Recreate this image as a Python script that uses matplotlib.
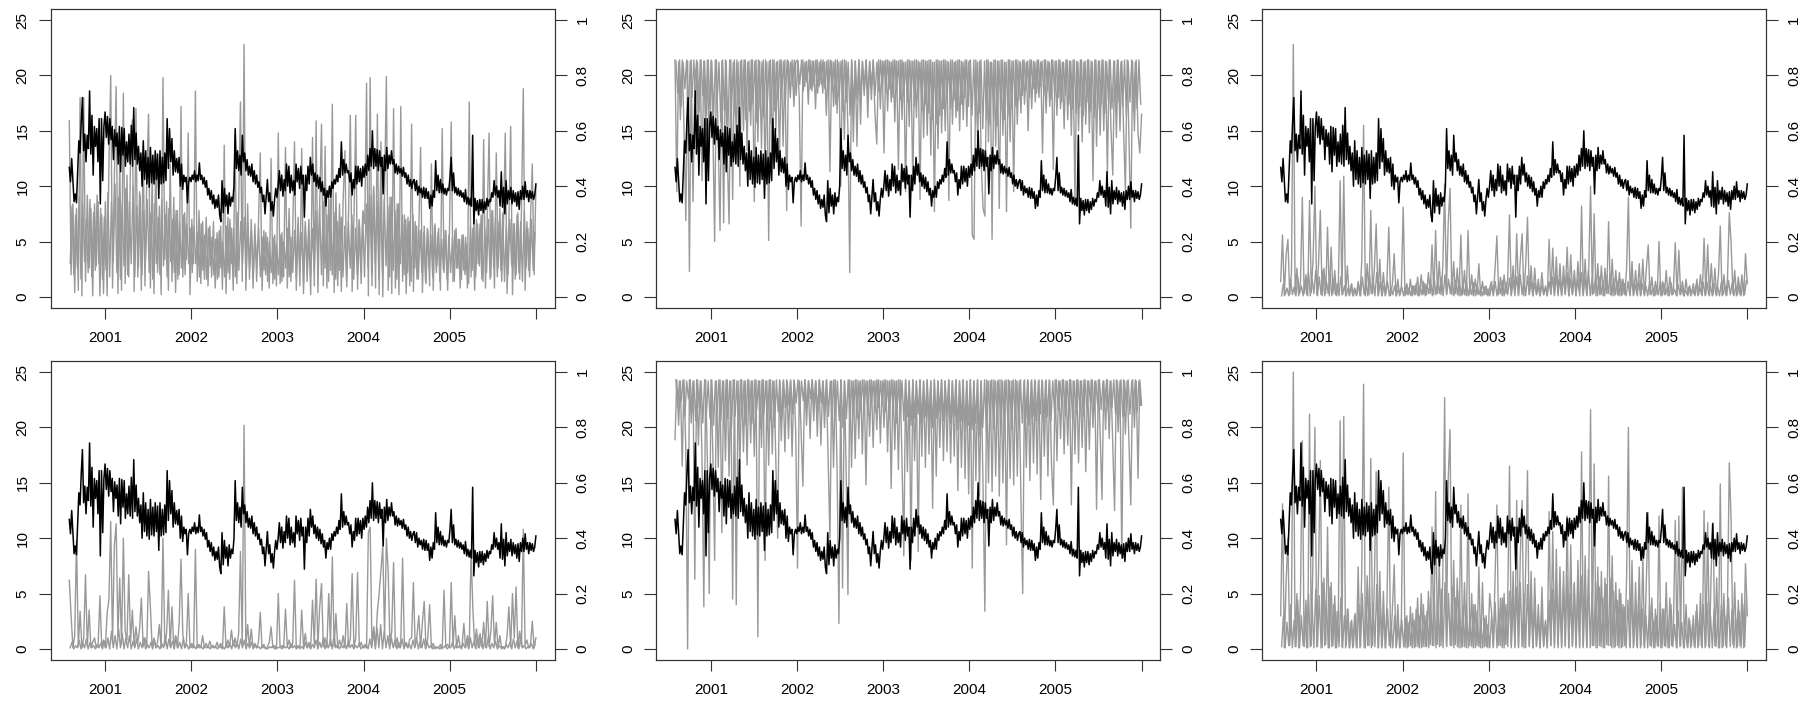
import numpy as np
import matplotlib
matplotlib.use('Agg')
import matplotlib.pyplot as plt

plt.rcParams['font.family'] = ['Liberation Sans', 'DejaVu Sans']

first_year = 2000.585
last_year = 2006.0
tick_years = [2001, 2002, 2003, 2004, 2005, 2006]
tick_labels = ['2001', '2002', '2003', '2004', '2005', '']
left_ticks = [0, 5, 10, 15, 20, 25]
right_ticks = [0, 0.2, 0.4, 0.6, 0.8, 1]
right_labels = ['0', '0.2', '0.4', '0.6', '0.8', '1']

# black series, same in every panel (6 readings a month)
price = [
    11.7, 10.4, 12.5, 10.6, 8.6, 9.3, 8.5, 11.2, 14.1, 13.0, 15.8, 18.0,
    13.2, 14.7, 12.2, 14.6, 13.4, 18.6, 12.9, 16.4, 11.0, 15.4, 13.6, 15.2,
    12.2, 16.1, 8.4, 16.1, 10.5, 15.4,
    16.7, 14.4, 16.3, 13.8, 16.1, 14.2, 15.4, 12.4, 15.1, 13.6, 14.8, 12.0,
    15.4, 11.3, 15.3, 12.8, 15.2, 11.8, 14.0, 12.2, 14.7, 12.0, 15.5, 11.8,
    17.1, 12.4, 14.8, 12.0, 13.6, 11.4, 13.0, 10.0, 14.1, 10.6, 13.2, 10.2,
    12.6, 9.9, 13.5, 10.3, 12.8, 10.2, 13.2, 10.6, 12.9, 8.9, 13.2, 10.2,
    12.6, 10.3, 13.0, 10.5, 16.1, 11.6, 15.2, 12.2, 14.3, 11.0, 13.2, 11.3,
    12.5, 11.2, 12.6, 10.0, 12.0, 9.7, 11.0, 10.4, 10.8, 8.5, 10.4, 10.8,
    10.4, 11.0,
    10.6, 11.4, 10.4, 11.0, 10.5, 12.1, 10.6, 11.0, 10.2, 10.8, 9.9, 10.5,
    9.2, 9.8, 8.8, 9.6, 8.4, 9.2, 8.0, 8.8, 8.1, 9.2, 7.4, 6.8,
    10.5, 7.6, 9.8, 8.2, 9.2, 7.5, 9.4, 8.2, 9.0, 8.6, 10.0, 15.2,
    11.6, 13.2, 11.4, 12.8, 11.0, 14.6, 12.2, 13.0, 11.4, 12.4, 11.0, 11.8,
    10.9, 12.0, 10.4, 11.4, 10.2, 11.0, 9.9, 10.4, 9.4, 9.9, 8.6, 9.2,
    7.5, 9.0, 10.6, 8.6, 9.4, 7.8, 8.6, 7.3, 8.8, 9.8, 9.0, 10.0,
    11.4, 9.6, 11.0, 9.1, 10.6, 9.6, 12.0, 10.0, 11.8, 9.4, 11.0, 9.6,
    10.5, 9.2, 12.0, 10.4, 11.6, 9.8, 11.8, 10.2, 11.0, 7.2, 11.0, 9.6,
    11.8, 10.2, 12.6, 11.0, 12.0, 10.4, 11.2, 10.0, 11.0, 9.8, 10.8, 9.5,
    10.4, 9.2, 9.8, 8.2, 9.6, 9.0, 10.0, 9.0, 10.4, 9.8, 10.6, 10.2,
    11.0, 10.4, 11.6, 10.8, 14.0, 11.0, 12.4, 11.2, 12.0, 11.2, 11.4, 10.4,
    11.2, 9.2, 10.6, 9.8, 11.8, 10.2, 11.8, 10.4, 11.6, 10.0, 11.8, 10.8,
    12.0, 11.0, 12.8, 11.4, 13.4, 11.8, 15.0, 11.6, 13.4, 11.8, 13.3, 11.4,
    13.2, 11.8, 12.6, 9.3, 12.8, 11.4, 13.5, 11.6, 12.8, 12.0, 13.2, 12.0,
    12.4, 11.2, 12.0, 11.1, 11.8, 11.2, 11.6, 10.9, 11.7, 10.8, 11.2, 10.2,
    11.0, 10.0, 10.6, 9.8, 10.4, 10.6, 9.6, 10.5, 9.2, 10.0, 9.4, 9.8,
    9.0, 9.9, 8.9, 9.8, 8.9, 9.5, 8.0, 9.2, 8.2, 9.6, 9.0, 12.3,
    9.6, 11.0, 9.4, 10.6, 9.4, 10.2, 9.3, 9.8, 9.2, 9.8, 9.6, 10.8,
    12.6, 9.6, 11.2, 9.4, 9.9, 9.2, 9.8, 9.1, 9.6, 9.0, 9.4, 8.6,
    9.7, 8.4, 9.0, 8.3, 8.9, 8.2, 14.6, 6.6, 8.9, 7.8, 8.7, 7.4,
    8.8, 7.8, 8.8, 7.6, 8.6, 7.9, 8.9, 8.2, 8.8, 8.6, 9.4, 9.0,
    10.5, 9.2, 10.0, 9.0, 9.6, 8.2, 11.3, 8.1, 9.9, 7.5, 10.5, 8.4,
    9.6, 8.8, 9.9, 8.4, 9.6, 8.6, 9.4, 8.2, 9.5, 7.9, 9.6, 8.8,
    10.0, 8.8, 10.4, 9.0, 9.6, 8.6, 9.6, 8.9, 9.5, 8.8, 9.2, 10.2,
]

# grey series, read in left axis units (4 readings a month): the spikes
grey_top_left = [
    15.9, 2.0, 8.4, 0.4, 8.0, 0.6, 18.0, 0.1, 18.0, 1.4, 9.2, 2.6, 8.0, 0.1, 8.4, 2.8, 8.6, 0.1, 7.4, 0.3,
    8.6, 0.1, 12.0, 20.0, 0.8, 10.6, 19.0, 0.3, 12.4, 0.6, 18.4, 1.2,
    11.0, 1.8, 12.5, 16.0, 0.5, 17.0, 1.8, 9.5, 0.6, 13.6, 1.0, 10.8,
    16.5, 0.8, 11.0, 0.3, 13.0, 2.2, 8.2, 0.2, 19.8, 3.4, 8.6, 0.6,
    12.0, 1.4, 9.0, 0.4, 7.8, 2.0, 17.2, 1.8, 7.6, 3.4, 14.8, 0.2,
    7.0, 3.0, 18.6, 1.4, 7.8, 1.2, 6.8, 1.6, 7.2, 1.0, 6.4, 1.8,
    6.8, 0.8, 5.8, 1.8, 6.4, 0.7, 13.7, 0.3, 7.2, 1.6, 6.2, 0.6,
    14.6, 1.2, 8.0, 17.6, 1.4, 22.8, 0.6, 8.4, 1.6, 7.0, 0.8, 6.6,
    1.4, 6.6, 13.0, 0.6, 6.0, 2.0, 5.4, 0.8, 12.5, 1.2, 5.6, 1.0,
    14.8, 1.2, 5.8, 1.8, 13.5, 0.8, 8.0, 1.4, 6.0, 14.0, 0.6, 7.2,
    1.0, 13.4, 0.3, 6.8, 1.4, 5.6, 0.2, 14.4, 1.0, 15.9, 0.4, 8.6,
    15.6, 1.0, 13.6, 0.8, 9.0, 2.4, 17.4, 0.4, 9.4, 1.0, 8.4, 0.5,
    8.8, 13.2, 0.9, 7.6, 16.4, 0.5, 7.0, 16.4, 0.7, 6.8, 1.2, 7.8,
    6.6, 19.3, 0.1, 19.8, 1.0, 10.0, 0.8, 16.5, 0.2, 14.0, 0.0, 9.6,
    19.9, 0.6, 9.0, 0.3, 17.0, 0.8, 8.4, 0.2, 17.2, 1.4, 7.4, 0.3,
    7.2, 1.0, 15.6, 0.5, 6.8, 1.6, 6.2, 13.5, 0.4, 6.4, 1.2, 6.0,
    1.0, 12.0, 0.6, 6.6, 2.8, 6.2, 0.6, 15.2, 2.2, 6.0, 0.6, 5.8,
    15.8, 1.4, 6.0, 2.6, 5.2, 0.8, 5.6, 2.4, 5.4, 0.8, 17.6, 1.8,
    6.2, 0.6, 7.0, 3.0, 6.6, 1.6, 14.2, 0.8, 7.2, 14.8, 1.8, 7.8,
    0.8, 13.0, 2.6, 8.0, 1.4, 6.4, 14.8, 0.3, 6.8, 15.4, 0.2, 6.6,
    2.0, 7.6, 1.6, 8.0, 18.8, 0.6, 6.8, 2.4, 7.0, 12.0, 2.0, 10.0,
]

grey_top_mid = [
    21.4, 9.5, 21.2, 16.0, 21.4, 15.2, 6.9, 21.3, 2.3, 21.4, 8.6, 19.2, 21.4, 15.0, 21.4, 10.5, 21.3, 14.6, 21.4, 13.2,
    21.4, 15.5, 5.0, 21.4, 14.0, 6.0, 21.3, 6.7, 21.4, 13.0, 6.6, 21.4,
    8.8, 21.4, 14.2, 21.2, 10.0, 21.4, 15.0, 21.4, 13.2, 21.3, 15.5, 21.4,
    8.6, 21.4, 14.0, 21.3, 13.4, 21.4, 10.8, 21.2, 5.1, 21.4, 12.8, 21.4,
    15.0, 21.3, 12.6, 21.4, 13.6, 21.4, 7.8, 21.3, 18.0, 21.4, 17.2, 21.2,
    21.4, 17.8, 6.4, 21.4, 19.0, 21.3, 17.4, 21.4, 18.6, 21.3, 17.0, 21.4,
    19.0, 21.4, 18.4, 21.2, 16.4, 21.4, 11.3, 21.3, 17.2, 21.4, 16.6, 21.2,
    10.0, 21.4, 14.2, 21.3, 15.0, 2.2, 21.4, 14.0, 21.3, 13.6, 21.4, 15.6,
    21.3, 18.2, 21.4, 16.2, 21.2, 17.8, 21.4, 16.6, 13.8, 21.4, 17.0, 21.3,
    13.0, 21.4, 16.8, 21.3, 17.6, 21.4, 15.8, 21.3, 11.5, 21.4, 16.0, 21.2,
    9.5, 21.4, 15.4, 21.3, 10.0, 21.4, 16.2, 21.3, 8.8, 21.4, 14.4, 21.3,
    14.6, 21.4, 12.8, 21.2, 7.7, 21.4, 13.4, 21.3, 14.8, 21.4, 15.0, 21.3,
    8.7, 21.4, 15.6, 21.2, 16.2, 21.4, 15.0, 21.3, 16.0, 21.4, 15.4, 21.2,
    21.4, 5.6, 5.2, 21.4, 13.8, 21.3, 12.0, 8.0, 7.3, 21.4, 14.0, 21.2,
    5.2, 21.4, 13.6, 21.3, 8.0, 21.4, 14.6, 21.2, 7.7, 21.4, 14.0, 21.3,
    9.5, 21.4, 15.6, 21.3, 16.6, 21.4, 17.4, 21.2, 15.0, 21.4, 17.0, 21.3,
    17.6, 21.4, 18.0, 21.2, 13.0, 21.4, 16.6, 21.3, 17.2, 21.4, 11.5, 21.3,
    16.4, 21.4, 17.0, 21.2, 15.2, 21.4, 16.0, 21.3, 14.6, 21.4, 8.7, 21.3,
    15.0, 21.4, 14.0, 21.2, 15.6, 21.4, 14.8, 21.3, 10.5, 21.4, 13.6, 21.3,
    14.6, 21.4, 15.0, 21.3, 11.0, 21.4, 15.2, 11.0, 21.3, 14.4, 21.4, 15.0,
    21.3, 15.0, 9.6, 21.4, 14.2, 6.2, 21.3, 15.0, 21.4, 14.8, 13.0, 16.5,
]

grey_top_right = [
    1.4, 5.6, 0.1, 3.8, 5.2, 0.2, 2.2, 22.8, 0.2, 2.6, 0.1, 1.4, 9.0, 0.3, 2.0, 0.1, 8.7, 0.4, 3.6, 10.0,
    0.2, 3.0, 7.8, 0.1, 2.6, 0.3, 6.3, 0.1, 4.5, 0.3, 2.4, 0.1,
    1.0, 10.5, 0.2, 10.9, 0.1, 2.8, 0.1, 1.0, 0.1, 0.8, 0.1, 1.4,
    0.1, 3.2, 15.5, 0.1, 3.0, 0.2, 7.8, 0.3, 2.6, 6.6, 0.1, 3.4,
    0.1, 2.2, 0.1, 1.6, 6.3, 0.1, 1.2, 3.9, 0.1, 1.6, 0.1, 1.0,
    8.1, 0.1, 1.2, 0.2, 1.6, 0.1, 1.0, 0.2, 1.8, 0.1, 2.0, 0.2,
    1.2, 0.2, 2.2, 0.3, 4.7, 0.2, 6.0, 0.3, 3.2, 0.2, 2.8, 10.2,
    0.3, 6.8, 9.8, 0.2, 3.2, 0.3, 2.6, 0.1, 5.6, 0.2, 2.4, 0.1,
    6.0, 0.2, 2.0, 0.1, 1.6, 0.2, 3.0, 0.1, 1.4, 0.2, 1.0, 0.1,
    0.8, 1.4, 0.1, 2.6, 5.5, 0.2, 1.8, 0.1, 2.0, 0.3, 1.6, 7.4,
    0.2, 2.8, 0.1, 5.7, 0.2, 3.4, 5.7, 0.1, 3.0, 7.2, 0.2, 2.8,
    0.1, 2.6, 0.2, 1.6, 0.1, 2.2, 0.2, 1.0, 0.1, 5.2, 0.2, 4.4,
    0.3, 3.6, 0.1, 3.0, 0.2, 2.8, 0.3, 4.5, 0.1, 3.8, 0.2, 2.4,
    0.2, 3.2, 0.1, 8.2, 0.2, 3.4, 0.1, 2.6, 10.0, 0.2, 7.5, 0.1,
    3.0, 0.2, 2.8, 0.1, 2.6, 0.3, 6.8, 0.2, 3.4, 0.1, 2.4, 0.2,
    2.2, 0.1, 1.6, 0.2, 2.6, 9.0, 0.1, 3.2, 0.2, 2.4, 0.1, 3.0,
    0.2, 3.4, 0.1, 2.6, 4.7, 0.2, 1.8, 0.1, 1.4, 0.2, 5.0, 0.1,
    1.4, 0.2, 2.4, 0.1, 1.8, 0.2, 0.8, 4.9, 0.1, 4.2, 0.2, 1.4,
    0.1, 1.6, 0.1, 1.0, 0.2, 1.2, 0.1, 1.6, 0.2, 2.0, 0.1, 5.3,
    0.2, 4.7, 0.1, 3.0, 0.2, 2.6, 0.1, 2.0, 6.4, 0.1, 2.0, 0.2,
    1.6, 7.6, 4.9, 0.3, 2.4, 0.1, 1.8, 0.2, 2.0, 0.1, 3.9, 1.2,
]

grey_bottom_left = [
    6.2, 3.0, 0.1, 1.2, 9.8, 0.2, 3.4, 0.1, 1.0, 6.7, 0.2, 3.5, 0.1, 0.6, 1.0, 0.1, 0.3, 4.8, 0.2, 0.8,
    0.1, 3.2, 4.5, 11.5, 0.5, 9.3, 11.3, 1.2, 6.4, 0.4, 10.0, 1.6,
    0.8, 6.7, 0.6, 3.5, 0.3, 2.0, 0.5, 1.8, 4.6, 0.2, 1.0, 0.1,
    7.0, 3.8, 0.1, 1.0, 0.1, 0.6, 2.2, 0.1, 10.0, 0.3, 1.4, 5.3,
    0.2, 3.8, 0.1, 1.2, 0.1, 2.4, 8.1, 1.4, 0.1, 0.6, 5.0, 0.1,
    0.5, 0.1, 9.0, 0.1, 0.4, 0.1, 1.2, 0.1, 0.5, 0.1, 0.7, 0.1,
    0.3, 0.1, 0.6, 0.1, 0.5, 0.0, 3.8, 0.1, 0.8, 0.2, 1.7, 0.3,
    1.0, 0.2, 1.4, 8.8, 0.3, 20.2, 0.2, 2.2, 0.1, 1.8, 0.1, 0.5,
    0.1, 0.6, 3.3, 0.1, 0.4, 0.0, 0.2, 0.6, 2.0, 0.1, 0.3, 0.0,
    5.0, 0.1, 0.3, 0.1, 3.6, 0.2, 0.8, 0.1, 0.5, 6.2, 0.1, 0.3,
    0.0, 3.5, 0.2, 1.4, 0.1, 0.6, 0.1, 4.4, 0.3, 6.3, 0.2, 3.8,
    5.9, 0.2, 1.0, 0.1, 5.0, 0.3, 8.3, 0.2, 3.2, 0.1, 0.8, 0.2,
    1.2, 0.1, 4.1, 0.2, 0.9, 6.8, 0.1, 1.0, 6.9, 0.2, 0.6, 0.1,
    0.4, 0.1, 10.5, 11.0, 0.3, 2.0, 0.2, 3.4, 5.0, 7.2, 9.3, 1.2,
    10.0, 7.0, 0.4, 1.6, 7.8, 0.2, 1.0, 0.1, 0.7, 8.2, 0.2, 0.6,
    0.1, 0.9, 1.0, 6.0, 0.2, 1.2, 3.0, 0.1, 2.4, 4.3, 0.1, 1.0,
    4.0, 0.1, 0.5, 0.0, 0.2, 0.1, 0.4, 0.0, 5.3, 0.2, 0.4, 0.1,
    6.0, 0.2, 3.0, 0.1, 1.2, 0.1, 0.3, 2.3, 0.1, 1.2, 0.2, 8.8,
    3.7, 0.3, 1.8, 0.1, 1.4, 0.2, 2.4, 0.1, 4.3, 0.2, 1.6, 4.8,
    0.3, 2.4, 0.1, 1.2, 0.0, 0.2, 0.1, 1.2, 3.8, 0.2, 5.0, 1.0,
    5.6, 0.1, 1.6, 0.2, 10.8, 0.3, 0.8, 0.1, 0.4, 2.5, 0.1, 1.0,
]

grey_bottom_mid = [
    18.9, 24.3, 20.2, 24.2, 16.5, 24.3, 18.0, 0.0, 24.3, 20.4, 24.2, 6.3, 24.3, 18.4, 24.2, 17.2, 3.8, 24.3, 16.8, 5.0,
    24.3, 17.6, 8.0, 24.2, 16.4, 24.3, 10.5, 24.2, 17.0, 24.3, 15.6, 24.2,
    4.5, 24.3, 4.0, 24.2, 16.2, 24.3, 17.8, 24.2, 16.6, 24.3, 18.6, 24.2,
    17.4, 24.3, 1.1, 24.2, 18.2, 24.3, 8.0, 24.2, 16.6, 24.3, 17.6, 24.2,
    16.8, 10.0, 24.3, 18.8, 24.2, 17.8, 24.3, 19.0, 24.2, 17.4, 24.3, 19.6,
    7.3, 24.2, 19.6, 14.7, 24.3, 20.2, 24.2, 19.0, 24.3, 20.6, 24.2, 19.2,
    24.3, 18.4, 24.2, 20.0, 24.3, 17.2, 10.0, 24.2, 16.4, 24.3, 15.8, 2.3,
    24.3, 5.5, 24.2, 16.0, 4.9, 24.3, 16.4, 24.2, 17.2, 24.3, 19.0, 24.2,
    17.6, 24.3, 14.8, 24.2, 19.2, 24.3, 18.2, 24.2, 19.8, 24.3, 18.6, 24.2,
    20.0, 24.3, 17.8, 24.2, 14.5, 24.3, 18.0, 24.2, 16.2, 24.3, 17.0, 8.4,
    24.3, 16.0, 24.2, 8.0, 24.3, 17.0, 24.2, 8.8, 24.3, 17.4, 24.2, 16.4,
    24.3, 17.6, 24.2, 12.7, 24.3, 15.6, 24.2, 18.2, 24.3, 17.0, 24.2, 17.8,
    24.3, 16.8, 24.2, 17.4, 24.3, 14.3, 24.2, 16.4, 24.3, 15.4, 24.2, 14.0,
    24.3, 7.3, 24.2, 15.2, 24.3, 13.8, 24.2, 14.6, 3.4, 24.3, 15.0, 24.2,
    14.2, 24.3, 15.6, 24.2, 13.8, 24.3, 15.0, 24.2, 9.4, 24.3, 15.4, 24.2,
    14.8, 24.3, 15.6, 24.2, 13.6, 5.0, 24.3, 16.4, 24.2, 15.2, 24.3, 16.8,
    24.2, 15.8, 24.3, 13.5, 24.2, 17.4, 24.3, 15.6, 24.2, 16.6, 13.0, 24.3,
    17.0, 24.2, 19.0, 24.3, 17.6, 24.2, 18.4, 24.3, 13.0, 24.2, 17.6, 24.3,
    16.8, 24.2, 18.2, 24.3, 16.0, 24.2, 18.0, 24.3, 20.0, 24.2, 12.6, 24.3,
    19.4, 13.5, 24.2, 19.8, 24.3, 19.0, 24.2, 18.2, 12.5, 24.3, 19.6, 24.2,
    8.2, 24.3, 19.4, 24.2, 18.6, 13.0, 24.3, 20.0, 24.2, 15.4, 24.3, 22.0,
]

grey_bottom_right = [
    3.0, 13.1, 0.1, 6.0, 10.0, 0.3, 4.0, 25.0, 0.2, 5.0, 0.1, 5.0, 18.8, 0.2, 4.4, 0.1, 21.2, 0.3, 9.0, 20.0,
    0.2, 7.0, 17.0, 0.1, 6.4, 0.4, 11.0, 0.1, 6.0, 0.3, 4.8, 0.1,
    3.0, 20.6, 0.2, 21.0, 0.1, 3.6, 0.1, 2.4, 0.1, 3.0, 0.1, 7.4,
    0.1, 7.0, 23.9, 0.1, 6.6, 0.3, 17.2, 0.3, 6.0, 16.0, 0.1, 7.0,
    0.1, 5.2, 0.1, 4.2, 14.6, 0.1, 3.6, 7.6, 0.1, 4.0, 0.1, 2.8,
    17.7, 0.1, 3.0, 0.2, 3.8, 0.1, 2.6, 0.2, 4.6, 0.1, 5.0, 0.2,
    3.0, 0.2, 5.2, 0.4, 11.0, 0.3, 14.2, 0.4, 8.0, 0.3, 6.8, 22.7,
    0.3, 15.4, 19.8, 0.3, 8.0, 0.4, 6.4, 0.1, 13.0, 0.2, 6.0, 0.1,
    14.0, 0.3, 5.0, 0.1, 4.0, 0.3, 7.4, 0.1, 6.0, 0.2, 3.0, 0.1,
    5.0, 3.4, 0.1, 6.4, 13.0, 0.3, 4.6, 0.1, 5.0, 0.4, 4.0, 16.5,
    0.3, 7.0, 0.1, 13.4, 0.3, 8.4, 13.4, 0.1, 7.4, 16.1, 0.3, 7.0,
    0.1, 6.4, 0.3, 4.0, 0.1, 5.6, 0.3, 2.6, 0.1, 12.4, 0.3, 10.6,
    0.4, 9.0, 0.1, 7.4, 0.3, 7.0, 0.4, 12.0, 0.1, 9.4, 0.3, 6.0,
    0.3, 8.0, 0.1, 17.8, 0.3, 8.4, 0.1, 6.4, 21.6, 0.3, 16.7, 0.1,
    7.4, 0.3, 7.0, 0.1, 6.4, 0.4, 15.6, 0.3, 8.4, 0.1, 6.0, 0.3,
    5.4, 0.1, 4.0, 0.3, 6.4, 20.0, 0.1, 8.0, 0.3, 6.0, 0.1, 7.4,
    0.3, 8.4, 0.1, 6.4, 12.3, 0.3, 4.6, 0.1, 3.6, 0.3, 12.0, 0.1,
    3.6, 0.3, 6.0, 0.1, 4.6, 0.3, 2.0, 11.6, 0.1, 12.0, 0.3, 14.6,
    0.1, 4.0, 0.1, 2.6, 0.3, 3.0, 0.1, 4.0, 0.3, 5.0, 0.1, 12.5,
    0.3, 11.4, 0.1, 7.4, 11.4, 0.3, 6.4, 0.1, 14.9, 0.1, 5.0, 0.3,
    4.0, 16.8, 11.7, 0.4, 6.0, 0.1, 4.4, 0.3, 5.0, 0.1, 7.7, 3.0,
]

# dense part of the grey series, readings that fall between the ones above
body_top_left = [
    3.0, 8.2, 2.0, 7.4, 2.6, 9.0, 1.6, 8.4, 3.2, 7.0, 2.2, 8.8, 1.8, 7.6, 2.4, 9.2, 3.0, 8.0, 1.6, 7.2,
    2.4, 9.4, 1.8, 8.6, 3.2, 10.2, 2.2, 9.0, 1.6, 8.4, 2.8, 9.8,
    2.0, 8.6, 3.0, 10.0, 1.8, 8.2, 2.6, 9.2, 2.0, 7.8, 3.4, 8.8,
    2.2, 7.6, 1.6, 8.4, 3.0, 7.2, 2.0, 8.8, 2.8, 7.4, 1.8, 8.0,
    3.2, 7.0, 2.2, 7.8, 1.6, 6.8, 2.6, 7.4, 2.0, 6.6, 3.0, 6.2,
    2.2, 6.4, 3.0, 5.8, 1.8, 6.6, 2.4, 5.6, 1.6, 6.2, 2.8, 5.4,
    2.0, 5.2, 1.6, 6.0, 2.6, 5.0, 1.8, 6.4, 2.2, 7.0, 3.0, 6.2,
    1.8, 7.6, 2.4, 6.8, 3.0, 7.2, 1.6, 6.4, 2.6, 6.0, 2.0, 5.6,
    2.8, 6.2, 1.8, 5.4, 2.4, 5.8, 1.4, 5.0, 2.2, 5.4, 1.6, 4.8,
    2.0, 5.6, 1.4, 5.0, 2.6, 6.2, 1.8, 5.4, 2.2, 6.0, 1.6, 6.6,
    2.4, 5.8, 1.2, 6.4, 2.8, 7.0, 1.8, 6.2, 2.2, 7.8, 3.0, 8.2,
    2.0, 8.6, 2.6, 7.4, 1.4, 8.8, 2.0, 7.6, 1.6, 6.8, 2.4, 7.2,
    1.8, 6.4, 1.4, 6.8, 2.6, 7.4, 1.6, 6.2, 2.0, 7.0, 2.4, 7.6,
    1.8, 8.4, 2.6, 9.2, 2.0, 9.8, 3.0, 8.6, 1.6, 9.4, 2.2, 8.8,
    2.8, 8.2, 1.8, 9.0, 2.4, 7.8, 1.6, 8.4, 3.0, 7.4, 2.0, 7.0,
    2.2, 6.8, 1.4, 7.4, 2.6, 6.4, 1.6, 6.0, 2.2, 5.8, 1.4, 6.2,
    2.6, 5.6, 1.8, 6.4, 2.2, 5.8, 1.4, 5.2, 2.4, 6.0, 1.6, 5.6,
    2.2, 5.4, 1.4, 6.2, 2.6, 5.2, 1.6, 5.6, 2.0, 4.8, 1.2, 6.4,
    2.4, 7.0, 1.8, 6.6, 2.8, 7.4, 1.4, 6.2, 2.2, 7.0, 1.6, 7.8,
    2.6, 7.2, 1.8, 6.8, 2.4, 7.6, 1.4, 6.4, 2.0, 7.0, 2.8, 6.6,
    1.6, 7.4, 2.2, 6.8, 1.4, 7.8, 2.6, 6.2, 1.8, 7.0, 2.4, 5.8,
]

body_top_mid = [
    21.3, 18.4, 21.4, 17.2, 21.2, 18.8, 21.4, 16.6, 21.3, 18.0, 21.4, 17.4, 21.2, 16.8, 21.4, 18.2, 21.3, 16.4, 21.4, 17.0,
    21.3, 16.2, 21.4, 17.6, 21.2, 15.8, 21.4, 16.8, 21.3, 15.4, 21.4, 17.0,
    21.2, 16.4, 21.4, 15.6, 21.3, 17.2, 21.4, 16.0, 21.2, 16.8, 21.4, 17.4,
    21.3, 15.8, 21.4, 17.0, 21.2, 16.2, 21.4, 17.6, 21.3, 15.6, 21.4, 16.8,
    21.2, 17.8, 21.4, 18.4, 21.3, 17.6, 21.4, 18.8, 21.2, 19.0, 21.4, 18.2,
    21.3, 19.2, 21.4, 18.6, 21.2, 19.4, 21.4, 18.8, 21.3, 19.0, 21.4, 18.4,
    21.2, 19.2, 21.4, 18.8, 21.3, 18.0, 21.4, 18.6, 21.2, 17.4, 21.4, 18.0,
    21.3, 16.8, 21.4, 17.6, 21.2, 16.4, 21.4, 17.2, 21.3, 17.8, 21.4, 18.2,
    21.2, 18.8, 21.4, 18.0, 21.3, 19.0, 21.4, 18.2, 21.2, 18.6, 21.4, 18.8,
    21.3, 18.4, 21.4, 18.8, 21.2, 18.0, 21.4, 18.6, 21.3, 17.8, 21.4, 18.2,
    21.2, 17.6, 21.4, 18.0, 21.3, 17.2, 21.4, 17.8, 21.2, 16.8, 21.4, 17.4,
    21.3, 16.6, 21.4, 16.0, 21.2, 15.6, 21.4, 16.4, 21.3, 17.0, 21.4, 17.6,
    21.2, 17.0, 21.4, 17.8, 21.3, 16.8, 21.4, 17.4, 21.2, 18.0, 21.4, 17.2,
    21.3, 16.4, 21.4, 15.8, 21.2, 16.6, 21.4, 15.2, 21.3, 16.0, 21.4, 15.6,
    21.2, 16.2, 21.4, 15.4, 21.3, 16.8, 21.4, 16.0, 21.2, 16.4, 21.4, 17.0,
    21.3, 17.2, 21.4, 17.8, 21.2, 18.2, 21.4, 18.6, 21.3, 18.0, 21.4, 18.8,
    21.2, 18.4, 21.4, 19.0, 21.3, 18.2, 21.4, 18.6, 21.2, 17.8, 21.4, 18.4,
    21.3, 18.0, 21.4, 17.6, 21.2, 18.2, 21.4, 17.4, 21.3, 17.0, 21.4, 16.6,
    21.2, 17.2, 21.4, 16.4, 21.3, 17.6, 21.4, 16.8, 21.2, 16.2, 21.4, 17.0,
    21.3, 17.4, 21.4, 16.6, 21.2, 17.8, 21.4, 17.0, 21.3, 16.8, 21.4, 17.6,
    21.2, 17.2, 21.4, 16.4, 21.3, 17.6, 21.4, 16.8, 21.2, 17.0, 21.4, 17.4,
]

body_top_right = [
    0.1, 1.2, 0.2, 0.8, 0.1, 1.6, 0.2, 0.9, 0.1, 1.8, 0.3, 1.0, 0.1, 1.4, 0.2, 2.2, 0.1, 1.6, 0.3, 2.4,
    0.1, 1.8, 0.2, 2.4, 0.1, 1.4, 0.3, 2.0, 0.1, 1.6, 0.2, 1.2,
    0.1, 1.8, 0.2, 1.0, 0.1, 0.8, 0.2, 1.2, 0.1, 0.7, 0.2, 1.0,
    0.1, 1.8, 0.2, 1.4, 0.1, 2.0, 0.3, 1.6, 0.1, 2.2, 0.2, 1.4,
    0.1, 1.0, 0.2, 1.4, 0.1, 0.8, 0.2, 1.0, 0.1, 0.7, 0.2, 0.9,
    0.1, 0.9, 0.2, 0.8, 0.1, 1.0, 0.2, 1.2, 0.1, 0.9, 0.2, 1.4,
    0.1, 1.1, 0.3, 1.6, 0.1, 1.8, 0.2, 1.4, 0.3, 1.8, 0.1, 2.0,
    0.2, 1.6, 0.3, 1.9, 0.1, 1.5, 0.2, 1.7, 0.1, 1.2, 0.2, 1.4,
    0.1, 1.0, 0.2, 1.3, 0.1, 1.1, 0.2, 0.8, 0.1, 0.9, 0.2, 0.7,
    0.1, 1.0, 0.2, 1.4, 0.1, 1.2, 0.3, 1.5, 0.1, 1.3, 0.2, 1.7,
    0.1, 1.5, 0.3, 1.8, 0.1, 2.0, 0.2, 1.6, 0.1, 1.9, 0.2, 1.4,
    0.1, 1.2, 0.2, 0.9, 0.1, 1.1, 0.2, 0.8, 0.1, 1.4, 0.3, 1.8,
    0.1, 2.0, 0.3, 1.6, 0.1, 1.8, 0.2, 2.2, 0.1, 1.6, 0.2, 1.9,
    0.1, 1.6, 0.3, 2.2, 0.1, 1.8, 0.2, 2.4, 0.1, 1.7, 0.3, 2.0,
    0.1, 1.8, 0.2, 1.5, 0.1, 1.9, 0.3, 2.1, 0.1, 1.7, 0.2, 1.4,
    0.1, 1.6, 0.2, 1.2, 0.1, 1.4, 0.2, 1.8, 0.1, 1.1, 0.2, 1.5,
    0.1, 1.2, 0.2, 1.0, 0.1, 1.3, 0.2, 0.8, 0.1, 1.0, 0.2, 1.4,
    0.1, 1.2, 0.2, 0.9, 0.1, 1.3, 0.2, 0.7, 0.1, 1.1, 0.2, 0.8,
    0.1, 0.6, 0.2, 0.9, 0.1, 0.7, 0.2, 1.1, 0.1, 0.9, 0.2, 1.3,
    0.1, 1.4, 0.2, 1.0, 0.1, 1.2, 0.2, 0.9, 0.1, 1.3, 0.2, 1.0,
    0.1, 1.5, 0.2, 1.2, 0.1, 0.9, 0.2, 1.1, 0.1, 1.3, 0.2, 1.5,
]

body_bottom_left = [
    0.1, 0.6, 0.0, 0.3, 0.1, 0.8, 0.0, 0.5, 0.1, 0.9, 0.0, 0.6, 0.1, 0.3, 0.0, 0.4, 0.1, 0.5, 0.0, 0.7,
    0.1, 1.0, 0.0, 1.6, 0.1, 1.2, 0.0, 1.8, 0.1, 1.4, 0.0, 1.0,
    0.1, 1.2, 0.0, 0.7, 0.1, 0.9, 0.0, 0.6, 0.1, 1.0, 0.0, 0.4,
    0.1, 0.6, 0.0, 0.8, 0.1, 0.3, 0.0, 0.5, 0.1, 1.2, 0.0, 0.9,
    0.1, 0.7, 0.0, 1.1, 0.1, 0.6, 0.0, 0.9, 0.1, 0.4, 0.0, 0.3,
    0.1, 0.3, 0.0, 0.4, 0.1, 0.2, 0.0, 0.3, 0.1, 0.2, 0.0, 0.3,
    0.1, 0.2, 0.0, 0.3, 0.1, 0.2, 0.0, 0.4, 0.1, 0.5, 0.0, 0.7,
    0.1, 0.6, 0.0, 0.9, 0.1, 0.8, 0.0, 0.5, 0.1, 0.6, 0.0, 0.3,
    0.1, 0.2, 0.0, 0.3, 0.1, 0.1, 0.0, 0.2, 0.1, 0.3, 0.0, 0.1,
    0.1, 0.2, 0.0, 0.3, 0.1, 0.2, 0.0, 0.5, 0.1, 0.3, 0.0, 0.2,
    0.1, 0.2, 0.0, 0.6, 0.1, 0.3, 0.0, 0.4, 0.1, 0.8, 0.0, 0.6,
    0.1, 1.0, 0.0, 0.5, 0.1, 0.9, 0.0, 1.2, 0.1, 0.4, 0.0, 0.3,
    0.1, 0.5, 0.0, 0.8, 0.1, 0.4, 0.0, 0.3, 0.1, 0.5, 0.0, 0.2,
    0.1, 0.4, 0.0, 0.9, 0.1, 1.6, 0.0, 1.9, 0.1, 2.2, 0.0, 1.6,
    0.1, 1.2, 0.0, 1.0, 0.1, 0.8, 0.0, 0.6, 0.1, 0.9, 0.0, 0.5,
    0.1, 0.4, 0.0, 0.8, 0.1, 1.0, 0.0, 0.7, 0.1, 0.9, 0.0, 0.6,
    0.1, 0.3, 0.0, 0.2, 0.1, 0.1, 0.0, 0.2, 0.1, 0.3, 0.0, 0.2,
    0.1, 0.6, 0.0, 0.4, 0.1, 0.3, 0.0, 0.5, 0.1, 0.8, 0.0, 1.0,
    0.1, 0.7, 0.0, 1.2, 0.1, 0.9, 0.0, 0.8, 0.1, 1.1, 0.0, 0.5,
    0.1, 0.7, 0.0, 0.3, 0.1, 0.2, 0.0, 0.4, 0.1, 0.6, 0.0, 0.9,
    0.1, 0.7, 0.0, 1.0, 0.1, 0.3, 0.0, 0.2, 0.1, 0.5, 0.0, 0.4,
]

body_bottom_mid = [
    24.3, 21.8, 24.2, 22.4, 24.3, 21.0, 24.2, 22.6, 24.3, 21.4, 24.2, 20.6, 24.3, 21.8, 24.2, 20.4, 24.3, 21.2, 24.2, 20.8,
    24.3, 20.2, 24.2, 21.4, 24.3, 20.6, 24.2, 19.8, 24.3, 20.8, 24.2, 20.0,
    24.3, 21.0, 24.2, 19.6, 24.3, 20.8, 24.2, 20.2, 24.3, 21.2, 24.2, 20.4,
    24.3, 21.6, 24.2, 20.0, 24.3, 21.2, 24.2, 19.8, 24.3, 20.6, 24.2, 20.0,
    24.3, 21.4, 24.2, 20.8, 24.3, 21.8, 24.2, 22.0, 24.3, 21.2, 24.2, 22.2,
    24.3, 21.6, 24.2, 22.4, 24.3, 21.8, 24.2, 22.6, 24.3, 22.0, 24.2, 21.4,
    24.3, 22.2, 24.2, 21.6, 24.3, 21.0, 24.2, 20.4, 24.3, 21.2, 24.2, 20.6,
    24.3, 20.0, 24.2, 20.8, 24.3, 20.2, 24.2, 21.4, 24.3, 20.8, 24.2, 21.6,
    24.3, 21.8, 24.2, 21.0, 24.3, 22.2, 24.2, 21.4, 24.3, 21.8, 24.2, 22.0,
    24.3, 21.4, 24.2, 20.8, 24.3, 21.6, 24.2, 20.4, 24.3, 21.2, 24.2, 20.6,
    24.3, 21.0, 24.2, 20.2, 24.3, 20.8, 24.2, 21.2, 24.3, 20.4, 24.2, 21.0,
    24.3, 20.6, 24.2, 20.0, 24.3, 20.8, 24.2, 21.4, 24.3, 20.6, 24.2, 21.0,
    24.3, 20.4, 24.2, 21.0, 24.3, 19.8, 24.2, 20.6, 24.3, 19.6, 24.2, 20.2,
    24.3, 19.8, 24.2, 20.4, 24.3, 19.2, 24.2, 20.0, 24.3, 19.6, 24.2, 20.2,
    24.3, 19.8, 24.2, 20.6, 24.3, 19.4, 24.2, 20.0, 24.3, 20.4, 24.2, 19.8,
    24.3, 20.6, 24.2, 20.0, 24.3, 20.4, 24.2, 20.8, 24.3, 20.2, 24.2, 21.0,
    24.3, 20.6, 24.2, 21.2, 24.3, 20.4, 24.2, 21.0, 24.3, 20.6, 24.2, 21.4,
    24.3, 21.6, 24.2, 22.0, 24.3, 21.0, 24.2, 21.6, 24.3, 20.8, 24.2, 21.2,
    24.3, 21.8, 24.2, 21.0, 24.3, 21.6, 24.2, 22.2, 24.3, 21.4, 24.2, 22.0,
    24.3, 21.6, 24.2, 22.2, 24.3, 21.4, 24.2, 21.8, 24.3, 21.2, 24.2, 21.6,
    24.3, 21.0, 24.2, 21.8, 24.3, 21.2, 24.2, 22.0, 24.3, 21.4, 24.2, 22.0,
]

body_bottom_right = [
    0.2, 3.0, 0.1, 2.4, 0.3, 4.0, 0.1, 2.6, 0.2, 4.4, 0.1, 3.0, 0.3, 2.8, 0.1, 5.0, 0.2, 4.0, 0.1, 5.4,
    0.2, 4.8, 0.1, 6.0, 0.3, 4.4, 0.1, 5.6, 0.2, 4.0, 0.1, 3.4,
    0.2, 4.6, 0.1, 3.0, 0.3, 3.6, 0.1, 2.6, 0.2, 3.2, 0.1, 4.0,
    0.2, 5.0, 0.1, 4.0, 0.3, 5.6, 0.1, 4.2, 0.2, 5.8, 0.1, 3.8,
    0.2, 3.0, 0.1, 3.6, 0.3, 2.4, 0.1, 3.0, 0.2, 2.2, 0.1, 2.6,
    0.2, 2.8, 0.1, 2.4, 0.3, 3.2, 0.1, 3.6, 0.2, 3.0, 0.1, 4.0,
    0.2, 3.4, 0.1, 4.6, 0.3, 5.4, 0.1, 4.2, 0.2, 5.4, 0.1, 6.0,
    0.2, 5.0, 0.3, 5.6, 0.1, 4.6, 0.2, 5.2, 0.1, 3.8, 0.2, 4.2,
    0.1, 3.0, 0.2, 4.0, 0.1, 3.4, 0.2, 2.6, 0.1, 2.8, 0.2, 2.2,
    0.1, 3.0, 0.2, 4.2, 0.1, 3.6, 0.3, 4.6, 0.1, 4.0, 0.2, 5.2,
    0.1, 4.6, 0.3, 5.6, 0.1, 6.0, 0.2, 5.0, 0.1, 5.8, 0.2, 4.4,
    0.1, 3.6, 0.2, 2.8, 0.1, 3.4, 0.2, 2.4, 0.1, 4.4, 0.3, 5.4,
    0.1, 6.0, 0.3, 5.0, 0.1, 5.6, 0.2, 6.6, 0.1, 5.0, 0.2, 5.8,
    0.1, 5.0, 0.3, 6.6, 0.1, 5.6, 0.2, 7.2, 0.1, 5.2, 0.3, 6.0,
    0.1, 5.6, 0.2, 4.6, 0.1, 5.8, 0.3, 6.4, 0.1, 5.2, 0.2, 4.4,
    0.1, 5.0, 0.2, 3.8, 0.1, 4.4, 0.2, 5.4, 0.1, 3.4, 0.2, 4.6,
    0.1, 3.6, 0.2, 3.0, 0.1, 4.0, 0.2, 2.6, 0.1, 3.0, 0.2, 4.2,
    0.1, 3.6, 0.2, 2.8, 0.1, 4.0, 0.2, 2.2, 0.1, 3.4, 0.2, 2.4,
    0.1, 1.8, 0.2, 2.8, 0.1, 2.2, 0.2, 3.4, 0.1, 2.8, 0.2, 4.0,
    0.1, 4.2, 0.2, 3.0, 0.1, 3.6, 0.2, 2.8, 0.1, 4.0, 0.2, 3.0,
    0.1, 4.6, 0.2, 3.6, 0.1, 2.8, 0.2, 3.4, 0.1, 4.0, 0.2, 4.6,
]

panels = [
    (grey_top_left, body_top_left), (grey_top_mid, body_top_mid), (grey_top_right, body_top_right),
    (grey_bottom_left, body_bottom_left), (grey_bottom_mid, body_bottom_mid), (grey_bottom_right, body_bottom_right),
]

W, H = 1809, 701
col_left = [50.6, 656.3, 1262.0]
row_top = [9.0, 361.0]
ax_w, ax_h = 504.0, 299.0
edge = '#333333'
half_step = (last_year - first_year) / 260 / 2

fig = plt.figure(figsize=(W / 100, H / 100), dpi=100)

for i, (grey, body) in enumerate(panels):
    left = col_left[i % 3]
    top = row_top[i // 3]
    ax = fig.add_axes([left / W, 1 - (top + ax_h) / H, ax_w / W, ax_h / H])

    ax.plot(np.linspace(first_year + half_step, last_year - half_step, len(body)), body, color='#999999', lw=1.0)
    ax.plot(np.linspace(first_year, last_year, len(grey)), grey, color='#999999', lw=1.0)
    ax.plot(np.linspace(first_year, last_year, len(price)), price, color='black', lw=1.1)

    ax.set_xlim(2000.368, 2006.217)
    ax.set_ylim(-1, 26)
    ax.set_xticks(tick_years)
    ax.set_xticklabels(tick_labels)
    ax.set_yticks(left_ticks)
    ax.set_yticklabels([str(t) for t in left_ticks], rotation=90, va='center')
    ax.tick_params(axis='x', length=8, width=0.8, color=edge, labelsize=11, pad=8.5)
    ax.tick_params(axis='y', length=8.6, width=0.8, color=edge, labelsize=11, pad=6.5)

    ax2 = ax.twinx()
    ax2.set_ylim(-0.04, 1.04)
    ax2.set_yticks(right_ticks)
    ax2.set_yticklabels(right_labels, rotation=90, va='center')
    ax2.tick_params(axis='y', length=8.6, width=0.8, color=edge, labelsize=11, pad=6.5)

    for a in (ax, ax2):
        for s in a.spines.values():
            s.set_linewidth(0.8)
            s.set_color(edge)

fig.savefig('out.png', dpi=100)
